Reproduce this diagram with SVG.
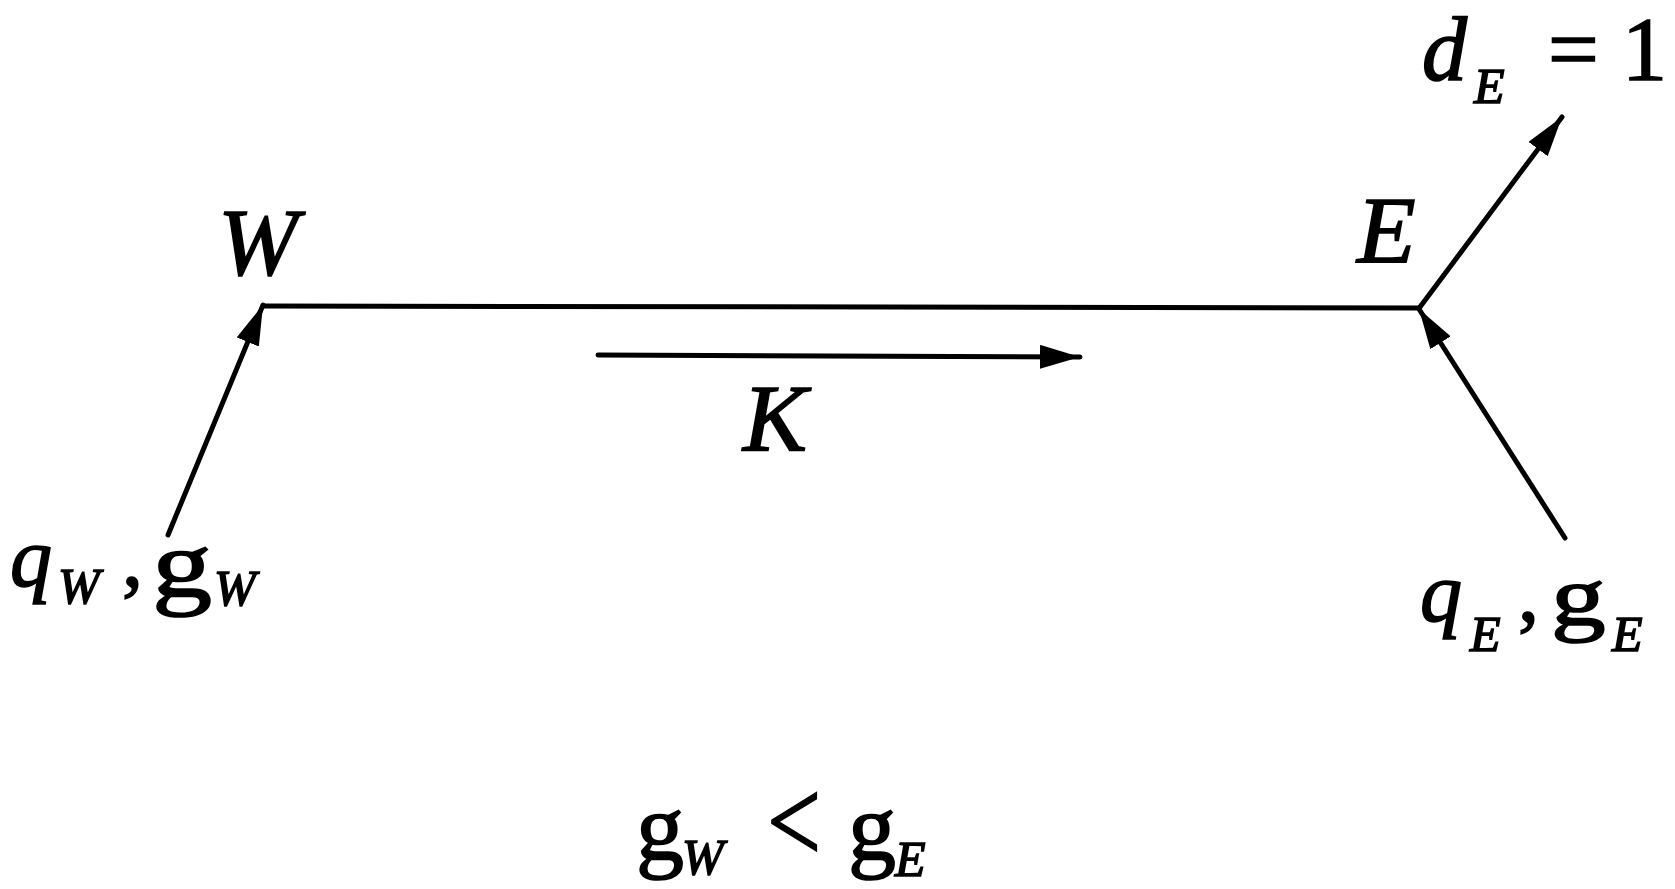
<svg xmlns="http://www.w3.org/2000/svg" width="1675" height="889" viewBox="0 0 1675 889">
<style>
.t{font-family:"Liberation Serif","Times New Roman",serif;font-style:italic;fill:#000;stroke:#000;stroke-width:1.6}
.r{font-family:"Liberation Serif","Times New Roman",serif;font-style:normal;fill:#000;stroke:#000;stroke-width:1.6}
.m{font-size:96px}
.d{font-size:90px}
.g{font-size:84px}
.gg{font-size:96px}
.s{font-size:50px}
.ln{stroke:#000;stroke-width:5;fill:none;stroke-linecap:round}
</style>
<defs>
<marker id="ah" viewBox="0 0 40 24" refX="40" refY="12" markerWidth="40" markerHeight="24" markerUnits="userSpaceOnUse" orient="auto">
<path d="M0,0 L40,12 L0,24 Z" fill="#000"/>
</marker>
</defs>
<rect width="1675" height="889" fill="#fff"/>
<g id="connectors">
<line class="ln" x1="264" y1="306" x2="1419" y2="308"/>
<line class="ln" x1="168" y1="535" x2="263" y2="305" marker-end="url(#ah)"/>
<line class="ln" x1="1565" y1="538" x2="1419" y2="309" marker-end="url(#ah)"/>
<line class="ln" x1="1420" y1="307" x2="1562" y2="117" marker-end="url(#ah)"/>
<line class="ln" x1="598" y1="355" x2="1080" y2="357" marker-end="url(#ah)"/>
</g>
<g id="node-W"><text class="t m" x="218" y="275">W</text></g>
<g id="node-E"><text class="t m" x="1357" y="263">E</text></g>
<g id="label-K"><text class="t m" x="743" y="451">K</text></g>
<g id="label-dE">
<text class="t d" x="1422" y="80">d</text>
<text class="t s" x="1474" y="103">E</text>
<text class="r d" x="1548" y="80">=</text>
<text class="r d" x="1622" y="80">1</text>
</g>
<g id="label-qWgW">
<text class="t g" x="10" y="586">q</text>
<text class="t s" x="58" y="603">W</text>
<text class="r g" x="122" y="586">,</text>
<text class="r gg" transform="translate(152,597) scale(1.25,1)">g</text>
<text class="t s" x="214" y="605">W</text>
</g>
<g id="label-qEgE">
<text class="t g" x="1420" y="621">q</text>
<text class="t s" x="1470" y="651">E</text>
<text class="r g" x="1518" y="621">,</text>
<text class="r g" transform="translate(1551,625) scale(1.3,1)">g</text>
<text class="t s" x="1612" y="651">E</text>
</g>
<g id="label-ineq">
<text class="r gg" x="636" y="860">g</text>
<text class="t s" x="682" y="874">W</text>
<text class="r" font-size="120" transform="translate(767,862) scale(0.8,1)">&lt;</text>
<text class="r gg" x="848" y="860">g</text>
<text class="t s" x="895" y="876">E</text>
</g>
</svg>
